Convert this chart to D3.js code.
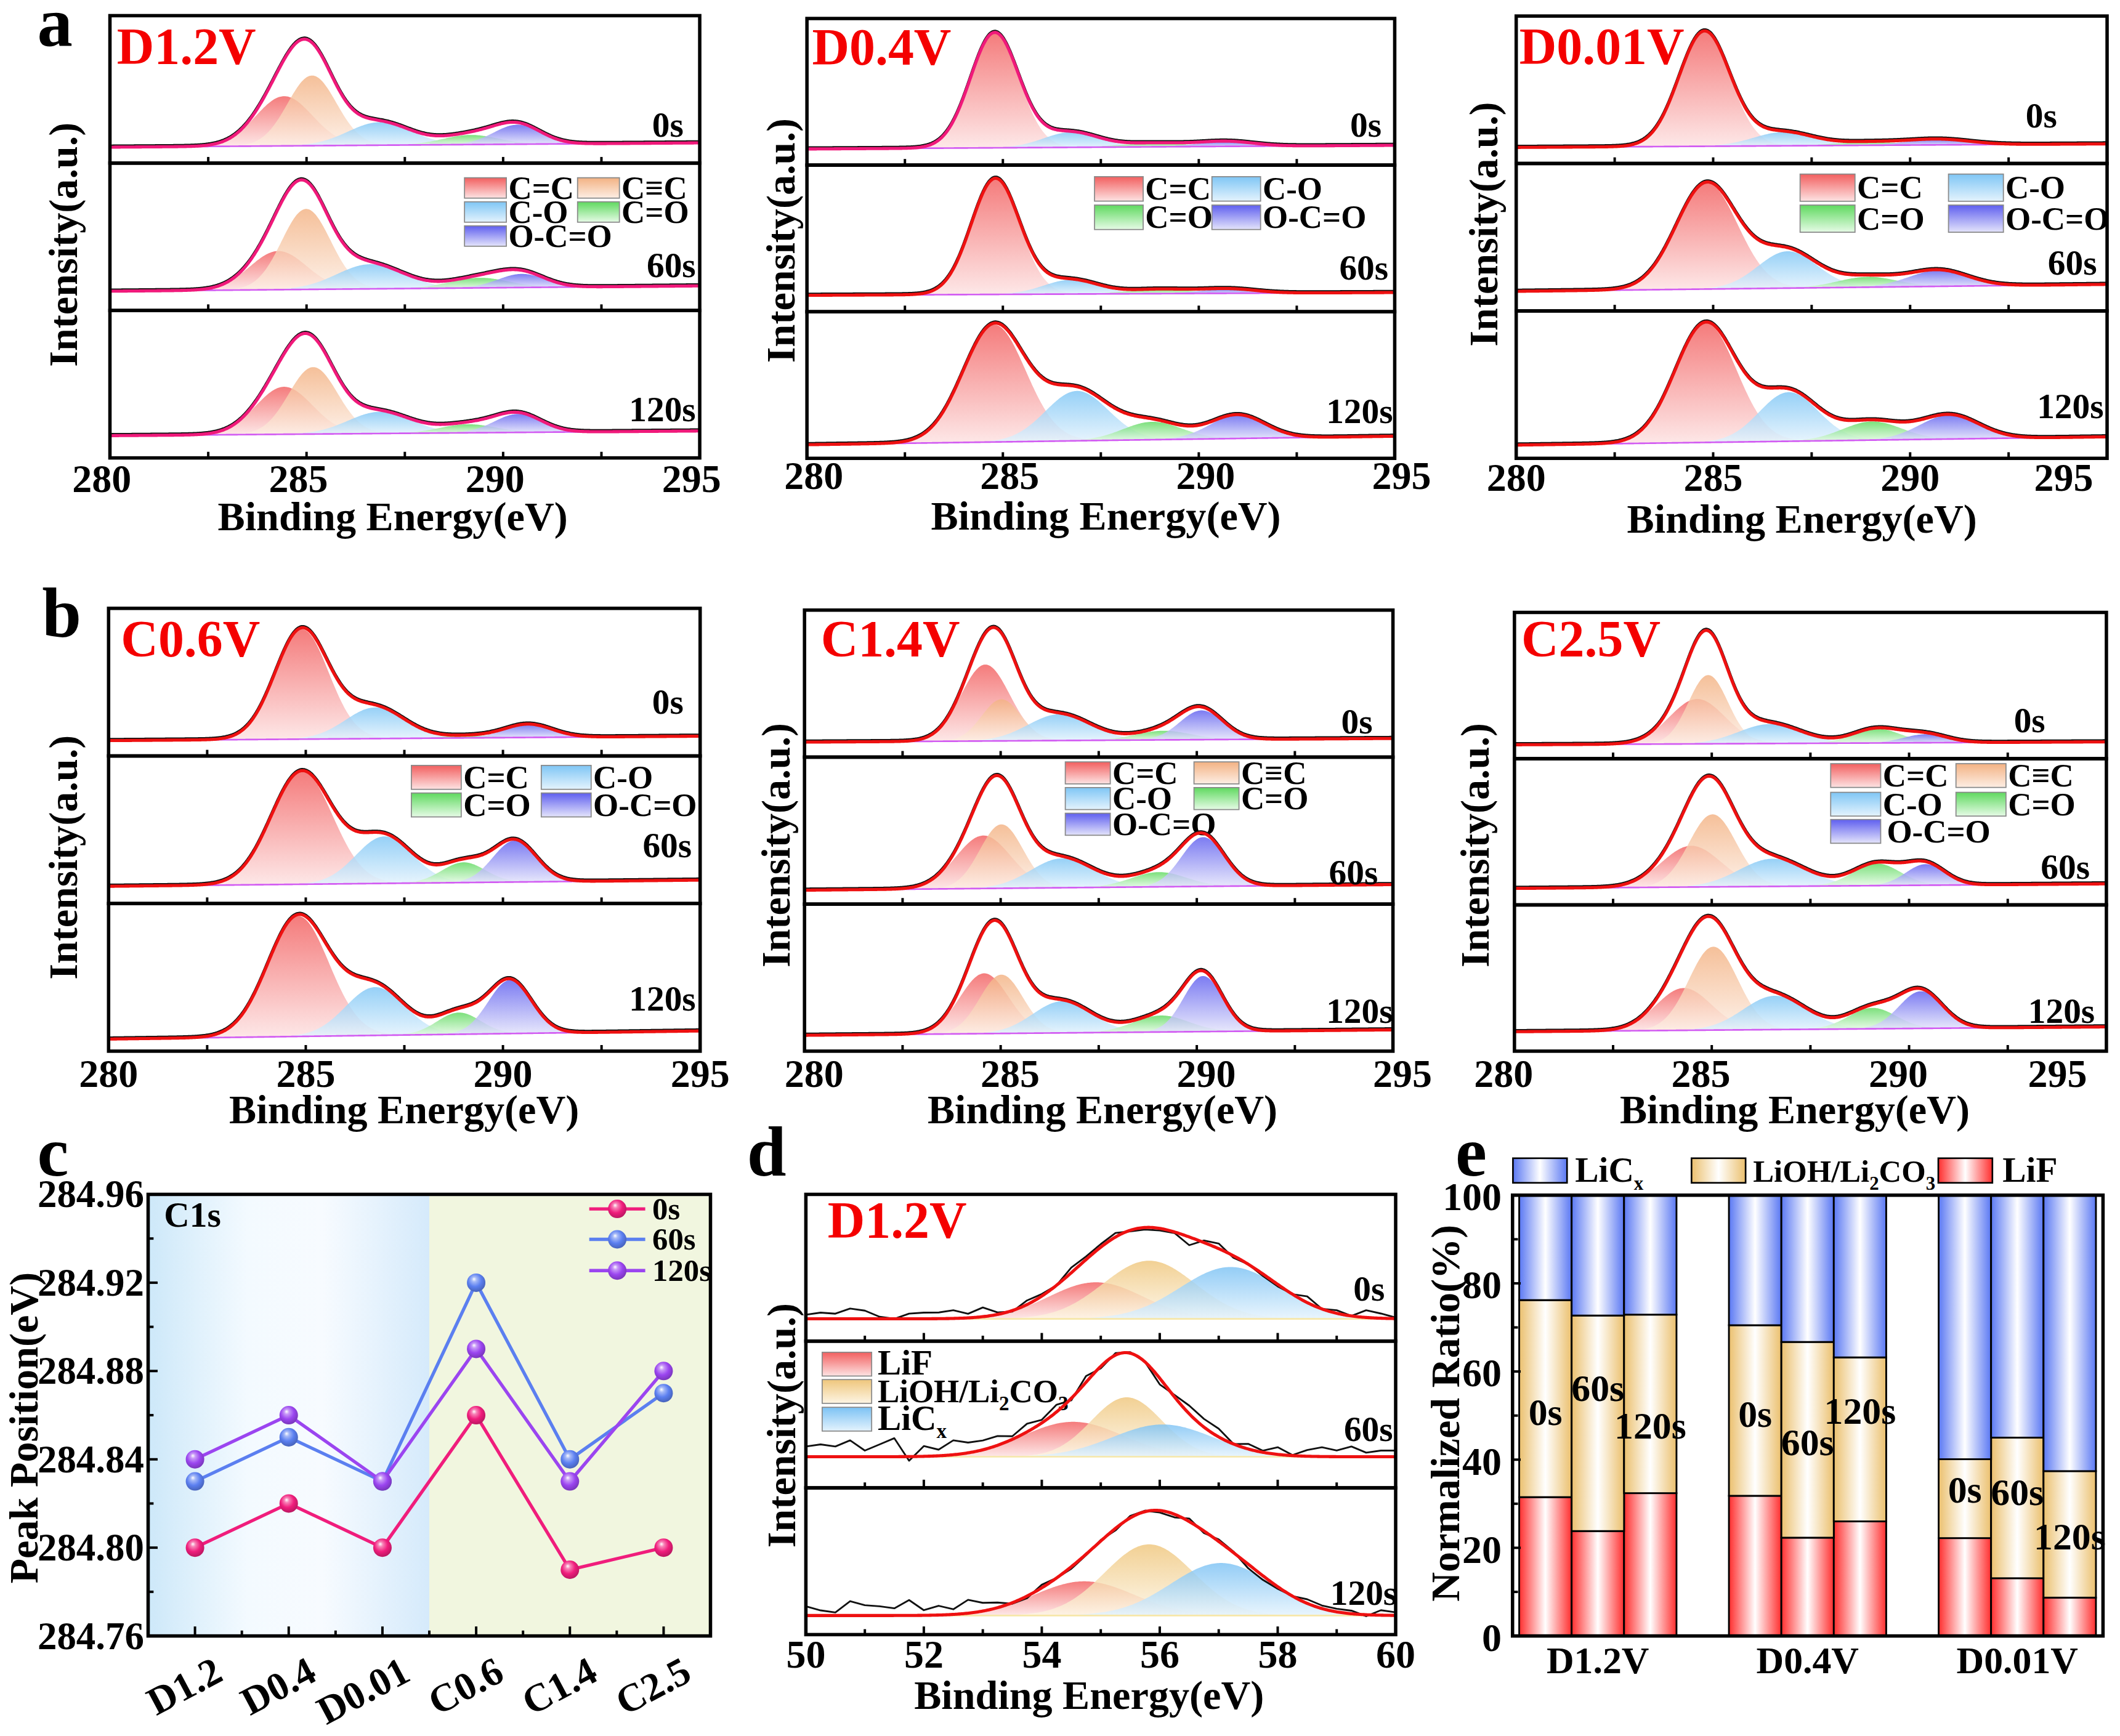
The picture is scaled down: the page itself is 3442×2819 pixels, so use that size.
<!DOCTYPE html>
<html>
<head>
<meta charset="utf-8">
<title>C1s / Li1s XPS depth profiles</title>
<script src="https://cdn.jsdelivr.net/npm/d3@7/dist/d3.min.js"></script>
<style>
  body { margin: 0; background: #fff; }
  text { font-family: "Liberation Serif", "Times New Roman", "DejaVu Serif", serif; font-weight: bold; fill: #000; }
</style>
</head>
<body>
<svg id="fig"></svg>
<script>
// ---------------- data ----------------
var times = ["0s", "60s", "120s"];

// C1s components, each fit peak = [centre (eV), height (fraction of sub-plot), sigma (eV)]
var compKeys = ["C=C", "C≡C", "C-O", "C=O", "O-C=O"];
var c1sTicks = [282.5, 285, 287.5, 290, 292.5];
var c1sTickLabels = [280, 285, 290, 295];

// discharge D1.2V
var D12_0s   = [[284.43, .337, .72], [285.14, .476, .62], [286.86, .156, .80], [289.17, .065, .70], [290.36, .132, .60]];
var D12_60s  = [[284.28, .262, .72], [284.99, .546, .62], [286.62, .167, .85], [289.40, .068, .75], [290.47, .092, .60]];
var D12_120s = [[284.43, .322, .72], [285.17, .454, .62], [286.86, .147, .80], [289.10, .058, .70], [290.38, .125, .60]];
var D12_base = [[.108, .137], [.131, .167], [.151, .183]];
// discharge D0.4V
var D04_0s   = [[284.79, .785, .62], null, [286.74, .103, .70], [288.87, .026, .80], [290.70, .034, .70]];
var D04_60s  = [[284.81, .790, .62], null, [286.74, .097, .70], [288.98, .030, .80], [290.76, .030, .70]];
var D04_120s = [[284.78, .800, .80], null, [286.89, .340, .80], [288.81, .122, .75], [290.99, .161, .70]];
var D04_base = [[.110, .135], [.112, .131], [.093, .151]];
// discharge D0.01V
var D001_0s   = [[284.78, .780, .65], null, [286.78, .093, .75], [288.92, .022, .80], [290.72, .038, .80]];
var D001_60s  = [[284.84, .720, .78], null, [286.89, .250, .75], [288.92, .070, .75], [290.72, .109, .75]];
var D001_120s = [[284.81, .810, .78], null, [286.92, .333, .75], [289.03, .126, .75], [291.00, .163, .75]];
var D001_base = [[.109, .133], [.133, .180], [.090, .146]];
// charge C0.6V
var C06_0s   = [[284.90, .745, .68], null, [286.76, .211, .75], [289.18, .015, .70], [290.65, .089, .60]];
var C06_60s  = [[284.90, .765, .78], null, [286.99, .318, .72], [289.00, .137, .55], [290.30, .281, .55]];
var C06_120s = [[284.81, .815, .78], null, [286.76, .327, .75], [288.88, .147, .55], [290.18, .362, .55]];
var C06_base = [[.104, .134], [.117, .159], [.082, .137]];
// charge C1.4V
var C14_0s   = [[284.61, .520, .62], [285.02, .283, .50], [286.50, .179, .80], [289.15, .062, .70], [290.12, .199, .55]];
var C14_60s  = [[284.56, .360, .70], [285.02, .435, .55], [286.57, .200, .80], [289.03, .100, .70], [290.16, .335, .55]];
var C14_120s = [[284.58, .410, .62], [285.02, .400, .55], [286.57, .215, .75], [289.09, .112, .70], [290.16, .378, .50]];
var C14_base = [[.102, .127], [.095, .133], [.108, .145]];
// charge C2.5V
var C25_0s   = [[284.63, .307, .70], [284.91, .470, .50], [286.48, .133, .80], [289.18, .098, .60], [290.42, .058, .55]];
var C25_60s  = [[284.48, .282, .75], [285.02, .496, .60], [286.54, .189, .85], [289.18, .151, .60], [290.42, .144, .50]];
var C25_120s = [[284.29, .289, .70], [285.04, .570, .62], [286.60, .231, .80], [289.07, .143, .60], [290.30, .254, .55]];
var C25_base = [[.095, .115], [.113, .144], [.133, .166]];

// Li1s at D1.2V: LiF, LiOH/Li2CO3, LiCx
var liKeys = ["LiF", "LiOH/Li2CO3", "LiCx"];
var li1sTicks = [51, 52, 53, 54, 55, 56, 57, 58, 59];
var li1sTickLabels = [50, 52, 54, 56, 58, 60];
var Li_0s   = [[54.92, .249, .80], [55.82, .396, .78], [57.20, .353, .85]];
var Li_60s  = [[54.53, .238, .85], [55.44, .405, .60], [56.05, .220, .85]];
var Li_120s = [[54.72, .233, .85], [55.82, .485, .75], [57.04, .358, .85]];
var Li_base = [[.152, .152], [.212, .212], [.130, .130]];
// raw Li1s counts minus fit, read every 0.25 eV from 50 to 60 eV (fraction of sub-plot)
var rawStep = 0.25;
var Li_0s_raw   = [.028, .042, .035, .070, .056, .014, 0, .035, .042, .042, .056, .028, .063, .014, -.007, .028, .014, 0, .035, .021, .021,
                   .028, -.007, -.014, -.014, -.007, -.056, .014, .035, -.014, 0, -.014, -.014, 0, .042, 0, .021, 0, .049, .032, .007];
var Li_60s_raw  = [.070, .084, .070, .112, .042, .084, .126, -.028, .070, .042, .098, .070, .063, .063, .021, .056, .021, .049, -.014, .042, -.014,
                   .014, .007, 0, -.042, .014, .056, .056, .056, 0, .035, .011, .049, .004, .042, .063, .042, .070, .028, .042, .042];
var Li_120s_raw = [.063, .035, .021, .098, .070, .063, .049, .105, .035, .063, .035, .091, .056, .035, -.007, -.014, .021, 0, -.014, -.007, .007,
                   -.014, .014, .007, -.014, -.021, .021, -.014, .014, .007, -.028, -.028, -.014, 0, .028, .021, .021, .021, -.010, .034, .021];

// panel c: C1s peak position (eV)
var cats = ["D1.2", "D0.4", "D0.01", "C0.6", "C1.4", "C2.5"];
var pos0s   = [284.80, 284.82, 284.80, 284.86, 284.79, 284.80];
var pos60s  = [284.83, 284.85, 284.83, 284.92, 284.84, 284.87];
var pos120s = [284.84, 284.86, 284.83, 284.89, 284.83, 284.88];

// panel e: normalized ratio (%)
var groups = ["D1.2V", "D0.4V", "D0.01V"];
var lifPct  = [31.5, 23.8, 32.4, 31.8, 22.3, 26.0, 22.2, 13.1, 8.7];
var liohPct = [44.7, 48.9, 40.5, 38.7, 44.4, 37.2, 17.9, 31.9, 28.7];
var licxPct = [23.8, 27.3, 27.1, 29.5, 33.3, 36.8, 59.9, 55.0, 62.6];
var barLabelPct = [50.8, 56.3, 47.7, 50.4, 43.9, 51.0, 33.2, 32.6, 22.6];

// ---------------- styles ----------------
var compTop = ["#f25f5f", "#f3b283", "#7fc6f5", "#5fd95f", "#5f5fef"];
var compLow = ["#fde3e3", "#fdeee4", "#e4f3fd", "#e6fbe6", "#e4e4fb"];
var liTop = ["#f25f5f", "#efc67c", "#7cc2f4"];
var liLow = ["#fde3e3", "#fdf5e4", "#e4f3fd"];
var PINK = "#f0197a", RED = "#ee1111", TITLE = "#f40000";

var svg = d3.select("#fig").attr("width", 3442).attr("height", 2819)
  .attr("viewBox", "0 0 1560 1277.6");
var defs = svg.append("defs");

function vGrad(id, top, low) {
  var g = defs.append("linearGradient").attr("id", id)
    .attr("x1", 0).attr("y1", 0).attr("x2", 0).attr("y2", 1);
  g.append("stop").attr("offset", "0%").attr("stop-color", top);
  g.append("stop").attr("offset", "100%").attr("stop-color", low);
}
function hGrad(id, col) {
  var g = defs.append("linearGradient").attr("id", id)
    .attr("x1", 0).attr("y1", 0).attr("x2", 1).attr("y2", 0);
  g.append("stop").attr("offset", "0%").attr("stop-color", col);
  g.append("stop").attr("offset", "50%").attr("stop-color", "#ffffff");
  g.append("stop").attr("offset", "100%").attr("stop-color", col);
}
function sphere(id, col) {
  var g = defs.append("radialGradient").attr("id", id)
    .attr("cx", "45%").attr("cy", "40%").attr("r", "60%").attr("fx", "38%").attr("fy", "30%");
  g.append("stop").attr("offset", "0%").attr("stop-color", "#ffffff");
  g.append("stop").attr("offset", "22%").attr("stop-color", d3.interpolateRgb("#ffffff", col)(0.55));
  g.append("stop").attr("offset", "60%").attr("stop-color", col);
  g.append("stop").attr("offset", "100%").attr("stop-color", d3.color(col).darker(0.7));
}
compKeys.forEach(function (k, i) { vGrad("cg" + i, compTop[i], compLow[i]); });
liKeys.forEach(function (k, i) { vGrad("lg" + i, liTop[i], liLow[i]); });

function gauss(pk, e) {
  var d = e - pk[0];
  return pk[1] * Math.exp(-d * d / (2 * pk[2] * pk[2]));
}

function rich(t, parts, subSize) {
  var prevSub = false;
  parts.forEach(function (pt) {
    var ts = t.append("tspan").text(pt[0]);
    if (pt[1]) { ts.attr("font-size", subSize).attr("dy", 6); prevSub = true; }
    else if (prevSub) { ts.attr("dy", -6); prevSub = false; }
  });
}
var liLabelParts = [[["LiF", 0]], [["LiOH/Li", 0], ["2", 1], ["CO", 0], ["3", 1]], [["LiC", 0], ["x", 1]]];

function yLabel(x, y, txt) {
  svg.append("text").attr("transform", "translate(" + x + "," + y + ") rotate(-90)")
    .attr("text-anchor", "middle").attr("font-size", 30).text(txt);
}

// ---------------- stacked XPS panels ----------------
function xpsPanel(p) {
  var x = d3.scaleLinear().domain(p.domain).range([p.x0, p.x1]);
  var subH = (p.y1 - p.y0) / 3;
  var g = svg.append("g");
  var step = 0.02;
  var es = d3.range(p.domain[0], p.domain[1] + step / 2, step);

  if (p.legend) p.legend(g);

  p.spectra.forEach(function (peaks, i) {
    var top = p.y0 + i * subH;
    var y = d3.scaleLinear().domain([0, 1]).range([top + subH, top]);
    var b = p.bases[i];
    var bg = function (e) { return b[0] + (b[1] - b[0]) * (e - p.domain[0]) / (p.domain[1] - p.domain[0]); };
    var clip = "clip-" + p.id + i;
    defs.append("clipPath").attr("id", clip).append("rect")
      .attr("x", p.x0).attr("y", top).attr("width", p.x1 - p.x0).attr("height", subH);
    var sg = g.append("g").attr("clip-path", "url(#" + clip + ")");

    peaks.forEach(function (pk, k) {
      if (!pk) return;
      var pts = es.filter(function (e) { return Math.abs(e - pk[0]) < 4 * pk[2]; });
      sg.append("path").datum(pts)
        .attr("fill", "url(#" + p.grad + k + ")").attr("fill-opacity", 0.82)
        .attr("d", d3.area().x(function (e) { return x(e); })
          .y0(function (e) { return y(bg(e)); })
          .y1(function (e) { return y(bg(e) + gauss(pk, e)); }));
    });
    sg.append("path").datum(es).attr("fill", "none").attr("stroke", p.bgColor).attr("stroke-width", 1.2)
      .attr("d", d3.line().x(function (e) { return x(e); }).y(function (e) { return y(bg(e)); }));

    var env = function (e) {
      var s = bg(e);
      peaks.forEach(function (pk) { if (pk) s += gauss(pk, e); });
      return s;
    };
    var line = d3.line().x(function (e) { return x(e); }).y(function (e) { return y(env(e)); });
    if (p.raw) {
      var rp = p.raw[i].map(function (r, j) { var e = p.domain[0] + j * rawStep; return [e, env(e) + r]; });
      sg.append("path").datum(rp).attr("fill", "none").attr("stroke", "#111").attr("stroke-width", 1.3)
        .attr("stroke-linejoin", "round")
        .attr("d", d3.line().x(function (d) { return x(d[0]); }).y(function (d) { return y(d[1]); }));
    } else {
      sg.append("path").datum(es).attr("fill", "none").attr("stroke", "#111").attr("stroke-width", 2.1)
        .attr("transform", "translate(0,-0.9)").attr("d", line);
    }
    sg.append("path").datum(es).attr("fill", "none").attr("stroke", p.fit[i]).attr("stroke-width", 2.3)
      .attr("stroke-linejoin", "round").attr("d", line);

    // inward ticks at the bottom of each sub-plot
    g.selectAll(null).data(p.ticks).enter().append("line")
      .attr("x1", function (v) { return x(v); }).attr("x2", function (v) { return x(v); })
      .attr("y1", top + subH).attr("y2", function (v) { return top + subH - p.tickLen(v); })
      .attr("stroke", "#000").attr("stroke-width", 1.8);

    g.append("rect").attr("x", p.x0).attr("y", top).attr("width", p.x1 - p.x0).attr("height", subH)
      .attr("fill", "none").attr("stroke", "#000").attr("stroke-width", 2.5);

    g.append("text").attr("x", p.timePos[i][0]).attr("y", p.timePos[i][1])
      .attr("text-anchor", "end").attr("font-size", 26).text(times[i]);
  });

  g.selectAll(null).data(p.labels).enter().append("text")
    .attr("x", function (v, j) { return x(v) + p.tickDx + (j === p.labels.length - 1 ? p.lastDx : 0); })
    .attr("y", p.tickY).attr("text-anchor", "middle").attr("font-size", 29)
    .text(function (v) { return v; });

  g.append("text").attr("x", p.xlabX).attr("y", p.xlabY).attr("text-anchor", "middle")
    .attr("font-size", 30).text("Binding Energy(eV)");
  yLabel(p.ylabX, p.ylabY, "Intensity(a.u.)");

  g.append("text").attr("x", p.tx).attr("y", p.ty).attr("font-size", 38)
    .style("fill", TITLE).text(p.title);
}

function c1sLegend(lg) {
  return function (g) {
    lg.items.forEach(function (it) {
      var k = it[0], cx = lg.cols[it[1]], cy = lg.rows[it[2]];
      g.append("rect").attr("x", cx).attr("y", cy).attr("width", lg.w).attr("height", lg.h)
        .attr("fill", "url(#cg" + k + ")").attr("stroke", "#8a8a8a").attr("stroke-width", 0.8);
      g.append("text").attr("x", cx + lg.w + 1.5 + (it[3] || 0)).attr("y", cy + lg.h / 2 + 8)
        .attr("font-size", 24).text(compKeys[k]);
    });
  };
}
var items5 = [[0, 0, 0], [1, 1, 0], [2, 0, 1], [3, 1, 1], [4, 0, 2]];
var items4 = [[0, 0, 0], [2, 1, 0], [3, 0, 1], [4, 1, 1]];
var c1sTickLen = function () { return 4.5; };

var common = { domain: [280, 295], ticks: c1sTicks, labels: c1sTickLabels, tickLen: c1sTickLen, grad: "cg", bgColor: "#d25cf2" };

var panels = [
  { id: "a1", x0: 80.9, x1: 514.9, y0: 11.5, y1: 337, title: "D1.2V", tx: 86, ty: 47,
    spectra: [D12_0s, D12_60s, D12_120s], bases: D12_base, fit: [PINK, PINK, PINK],
    timePos: [[503, 100.8], [512, 204], [512, 309.8]], tickY: 362, tickDx: -6, lastDx: 0,
    xlabX: 289, xlabY: 390, ylabX: 56.6, ylabY: 180,
    legend: c1sLegend({ cols: [341.8, 425], rows: [130.8, 148.5, 166.2], w: 30.8, h: 15, items: items5 }) },
  { id: "a2", x0: 593.8, x1: 1026.3, y0: 13.6, y1: 337.3, title: "D0.4V", tx: 597.6, ty: 47.5,
    spectra: [D04_0s, D04_60s, D04_120s], bases: D04_base, fit: [PINK, RED, RED],
    timePos: [[1016.6, 100.8], [1021.6, 205.6], [1025, 311.5]], tickY: 360, tickDx: 5, lastDx: 0,
    xlabX: 813.8, xlabY: 389.6, ylabX: 584.5, ylabY: 177,
    legend: c1sLegend({ cols: [805.4, 891.8], rows: [130, 150.9], w: 35.8, h: 18, items: items4 }) },
  { id: "a3", x0: 1115.7, x1: 1550.5, y0: 11.8, y1: 337.3, title: "D0.01V", tx: 1118, ty: 47,
    spectra: [D001_0s, D001_60s, D001_120s], bases: D001_base, fit: [RED, RED, RED],
    timePos: [[1513.7, 93.8], [1543, 202], [1548, 307.8]], tickY: 361, tickDx: 0, lastDx: -32,
    xlabX: 1326, xlabY: 392, ylabX: 1102, ylabY: 165,
    legend: c1sLegend({ cols: [1324.6, 1433.8], rows: [128.1, 150.9], w: 40.4, h: 20, items: items4 }) },
  { id: "b1", x0: 79.9, x1: 515.2, y0: 447.7, y1: 773.6, title: "C0.6V", tx: 89, ty: 483,
    spectra: [C06_0s, C06_60s, C06_120s], bases: C06_base, fit: [RED, RED, RED],
    timePos: [[503, 525.5], [509, 631], [512, 743.6]], tickY: 799.8, tickDx: 0, lastDx: 0,
    xlabX: 297.4, xlabY: 826.8, ylabX: 56.6, ylabY: 631,
    legend: c1sLegend({ cols: [302.7, 398.3], rows: [563.3, 583.6], w: 36.7, h: 17.6, items: items4 }) },
  { id: "b2", x0: 592, x1: 1025, y0: 449, y1: 773.6, title: "C1.4V", tx: 604, ty: 483,
    spectra: [C14_0s, C14_60s, C14_120s], bases: C14_base, fit: [RED, RED, RED],
    timePos: [[1010, 540], [1014, 650.6], [1025, 753]], tickY: 799.8, tickDx: 7, lastDx: 0,
    xlabX: 811.3, xlabY: 826.8, ylabX: 581, ylabY: 622,
    legend: c1sLegend({ cols: [783.9, 878.6], rows: [560.7, 579.6, 598.5], w: 33.1, h: 16.2, items: items5 }) },
  { id: "b3", x0: 1114.4, x1: 1550, y0: 450.7, y1: 773.6, title: "C2.5V", tx: 1119.5, ty: 483,
    spectra: [C25_0s, C25_60s, C25_120s], bases: C25_base, fit: [RED, RED, RED],
    timePos: [[1505, 539], [1537.8, 646.6], [1541.5, 753]], tickY: 799.8, tickDx: -8, lastDx: -28,
    xlabX: 1320.7, xlabY: 826.8, ylabX: 1095.6, ylabY: 622,
    legend: c1sLegend({ cols: [1347.1, 1439.3], rows: [562, 583.1, 603.1], w: 36.8, h: 17.5,
      items: [[0, 0, 0], [1, 1, 0], [2, 0, 1], [3, 1, 1], [4, 0, 2, 3]] }) }
];
panels.forEach(function (p) { xpsPanel(Object.assign({}, common, p)); });

// panel d: Li1s
xpsPanel({
  id: "d", domain: [50, 60], x0: 593, x1: 1027, y0: 879, y1: 1203, title: "D1.2V", tx: 609, ty: 911,
  spectra: [Li_0s, Li_60s, Li_120s], bases: Li_base, raw: [Li_0s_raw, Li_60s_raw, Li_120s_raw],
  fit: [RED, RED, RED], grad: "lg", bgColor: "#f6e7a8",
  ticks: li1sTicks, labels: li1sTickLabels, tickLen: function (v) { return v % 2 === 0 ? 6 : 4; },
  timePos: [[1019, 957], [1025, 1060.7], [1028, 1181]], tickY: 1227.3, tickDx: 0, lastDx: 0,
  xlabX: 801.4, xlabY: 1257.5, ylabX: 585.3, ylabY: 1049,
  legend: function (g) {
    var rows = [995.2, 1015.3, 1035.7];
    liKeys.forEach(function (k, i) {
      g.append("rect").attr("x", 605).attr("y", rows[i]).attr("width", 36.4).attr("height", 17.5)
        .attr("fill", "url(#lg" + i + ")").attr("stroke", "#8a8a8a").attr("stroke-width", 0.8);
      rich(g.append("text").attr("x", 645.8).attr("y", rows[i] + 16.5).attr("font-size", i === 1 ? 24 : 26),
        liLabelParts[i], 15);
    });
  }
});

// ---------------- panel c: peak position ----------------
(function () {
  var x0 = 109, x1 = 522.8, y0 = 879, y1 = 1204;
  var x = d3.scalePoint().domain(cats).range([x0, x1]).padding(0.5);
  var y = d3.scaleLinear().domain([284.76, 284.96]).range([y1, y0]);
  var g = svg.append("g");

  var bl = defs.append("linearGradient").attr("id", "cBlue").attr("x1", 0).attr("x2", 1).attr("y1", 0).attr("y2", 0);
  [["0%", "#cde8f9"], ["35%", "#f3faff"], ["62%", "#f7fbff"], ["100%", "#d5eafb"]].forEach(function (s) {
    bl.append("stop").attr("offset", s[0]).attr("stop-color", s[1]);
  });
  var split = (x("D0.01") + x("C0.6")) / 2;
  g.append("rect").attr("x", x0).attr("y", y0).attr("width", split - x0).attr("height", y1 - y0).attr("fill", "url(#cBlue)");
  g.append("rect").attr("x", split).attr("y", y0).attr("width", x1 - split).attr("height", y1 - y0).attr("fill", "#f1f6df");

  var series = [
    { name: "0s", vals: pos0s, col: "#f01d7c" },
    { name: "60s", vals: pos60s, col: "#5b7ff0" },
    { name: "120s", vals: pos120s, col: "#9b45f0" }
  ];
  series.forEach(function (s, i) { sphere("sp" + i, s.col); });
  var line = d3.line().x(function (d, i) { return x(cats[i]); }).y(function (d) { return y(d); });
  series.forEach(function (s) {
    g.append("path").datum(s.vals).attr("fill", "none").attr("stroke", s.col).attr("stroke-width", 2.4).attr("d", line);
  });
  series.forEach(function (s, si) {
    g.selectAll(null).data(s.vals).enter().append("circle")
      .attr("cx", function (d, i) { return x(cats[i]); }).attr("cy", function (d) { return y(d); })
      .attr("r", 6.8).attr("fill", "url(#sp" + si + ")");
  });

  g.append("rect").attr("x", x0).attr("y", y0).attr("width", x1 - x0).attr("height", y1 - y0)
    .attr("fill", "none").attr("stroke", "#000").attr("stroke-width", 2.5);

  var yt = d3.range(0, 11).map(function (i) { return +(284.76 + i * 0.02).toFixed(2); });
  g.selectAll(null).data(yt).enter().append("line")
    .attr("x1", x0).attr("x2", function (v, i) { return x0 + (i % 2 === 0 ? 7 : 4); })
    .attr("y1", function (v) { return y(v); }).attr("y2", function (v) { return y(v); })
    .attr("stroke", "#000").attr("stroke-width", 1.8);
  g.selectAll(null).data(yt.filter(function (v, i) { return i % 2 === 0; })).enter().append("text")
    .attr("x", 106).attr("y", function (v) { return y(v) + 9.5; }).attr("text-anchor", "end")
    .attr("font-size", 28.5).text(d3.format(".2f"));

  var step = x.step();
  g.selectAll(null).data(cats).enter().append("line")
    .attr("x1", function (c) { return x(c); }).attr("x2", function (c) { return x(c); })
    .attr("y1", y1).attr("y2", y1 - 7).attr("stroke", "#000").attr("stroke-width", 1.8);
  g.selectAll(null).data(cats.slice(0, -1)).enter().append("line")
    .attr("x1", function (c) { return x(c) + step / 2; }).attr("x2", function (c) { return x(c) + step / 2; })
    .attr("y1", y1).attr("y2", y1 - 4).attr("stroke", "#000").attr("stroke-width", 1.8);
  g.selectAll(null).data(cats).enter().append("text")
    .attr("transform", function (c) { return "translate(" + (x(c) + 22) + "," + 1236 + ") rotate(-28)"; })
    .attr("text-anchor", "end").attr("font-size", 29).text(function (c) { return c; });

  g.append("text").attr("x", 120.7).attr("y", 902.7).attr("font-size", 26).text("C1s");

  var rows = [889.7, 912.1, 935.1];
  series.forEach(function (s, i) {
    g.append("line").attr("x1", 433.6).attr("x2", 474.8).attr("y1", rows[i]).attr("y2", rows[i])
      .attr("stroke", s.col).attr("stroke-width", 2.4);
    g.append("circle").attr("cx", 454.2).attr("cy", rows[i]).attr("r", 6.8).attr("fill", "url(#sp" + i + ")");
    g.append("text").attr("x", 480).attr("y", rows[i] + 7.5).attr("font-size", 23).text(s.name);
  });
  yLabel(27.5, 1050.8, "Peak Position(eV)");
})();

// ---------------- panel e: normalized ratio ----------------
(function () {
  var x0 = 1113, x1 = 1547.5, y0 = 879.6, y1 = 1204;
  var gx = d3.scaleBand().domain(groups).range([x0 + 4.9, x1 - 5.2]).paddingInner(0.25).paddingOuter(0);
  var tx = d3.scaleBand().domain(times).range([0, gx.bandwidth()]);
  var y = d3.scaleLinear().domain([0, 100]).range([y1, y0]);
  var g = svg.append("g");

  var rowsData = [];
  groups.forEach(function (gr, gi) {
    times.forEach(function (t, ti) {
      var i = gi * 3 + ti;
      rowsData.push({ group: gr, time: t, idx: i, LiF: lifPct[i], LiOH: liohPct[i], LiCx: licxPct[i] });
    });
  });
  var keys = ["LiF", "LiOH", "LiCx"];
  var barCols = ["#ff2e2e", "#ebc06e", "#5a78f3"];
  keys.forEach(function (k, i) { hGrad("eg" + i, barCols[i]); });
  var stack = d3.stack().keys(keys)(rowsData);
  stack.forEach(function (layer, li) {
    g.selectAll(null).data(layer).enter().append("rect")
      .attr("x", function (d) { return gx(d.data.group) + tx(d.data.time); })
      .attr("width", tx.bandwidth())
      .attr("y", function (d) { return y(d[1]); })
      .attr("height", function (d) { return y(d[0]) - y(d[1]); })
      .attr("fill", "url(#eg" + li + ")").attr("stroke", "#000").attr("stroke-width", 1.3);
  });
  g.selectAll(null).data(rowsData).enter().append("text")
    .attr("x", function (d) { return gx(d.group) + tx(d.time) + tx.bandwidth() / 2; })
    .attr("y", function (d) { return y(barLabelPct[d.idx]) + 9.5; })
    .attr("text-anchor", "middle").attr("font-size", 28).text(function (d) { return d.time; });

  g.append("rect").attr("x", x0).attr("y", y0).attr("width", x1 - x0).attr("height", y1 - y0)
    .attr("fill", "none").attr("stroke", "#000").attr("stroke-width", 2.5);
  var yt = d3.range(0, 101, 10);
  g.selectAll(null).data(yt).enter().append("line")
    .attr("x1", x0).attr("x2", function (v) { return x0 + (v % 20 === 0 ? 6 : 4); })
    .attr("y1", function (v) { return y(v); }).attr("y2", function (v) { return y(v); })
    .attr("stroke", "#000").attr("stroke-width", 1.8);
  g.selectAll(null).data(yt.filter(function (v) { return v % 20 === 0; })).enter().append("text")
    .attr("x", 1105).attr("y", function (v) { return y(v) + 11; }).attr("text-anchor", "end")
    .attr("font-size", 29).text(function (v) { return v; });
  g.selectAll(null).data(groups).enter().append("text")
    .attr("x", function (gr) { return gx(gr) + gx.bandwidth() / 2; }).attr("y", 1231.6)
    .attr("text-anchor", "middle").attr("font-size", 28).text(function (gr) { return gr; });

  // legend (LiCx, LiOH/Li2CO3, LiF)
  var lgX = [[1113.3, 1159, 2, [["LiC", 0], ["x", 1]], 26],
             [1244.7, 1290, 1, [["LiOH/Li", 0], ["2", 1], ["CO", 0], ["3", 1]], 23],
             [1426.3, 1473.6, 0, [["LiF", 0]], 26]];
  lgX.forEach(function (l) {
    g.append("rect").attr("x", l[0]).attr("y", 852.4).attr("width", 39.8).attr("height", 18.1)
      .attr("fill", "url(#eg" + l[2] + ")").attr("stroke", "#000").attr("stroke-width", 1.2);
    rich(g.append("text").attr("x", l[1]).attr("y", 869.6).attr("font-size", l[4]), l[3], 14);
  });
  yLabel(1073.8, 1040, "Normalized Ratio(%)");
})();

// ---------------- panel letters ----------------
[["a", 27.4, 33.5], ["b", 30.9, 468.8], ["c", 27.4, 865.3], ["d", 549.7, 865.3], ["e", 1071, 865.3]].forEach(function (l) {
  svg.append("text").attr("x", l[1]).attr("y", l[2]).attr("font-size", 52).text(l[0]);
});
</script>
</body>
</html>
